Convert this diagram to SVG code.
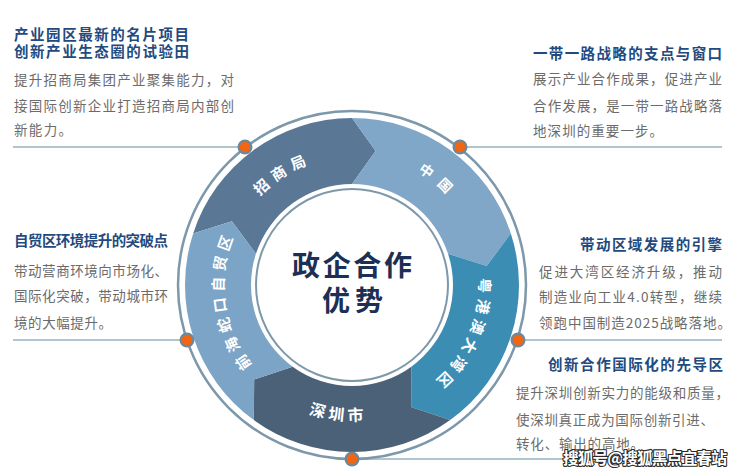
<svg xmlns="http://www.w3.org/2000/svg" width="740" height="472" viewBox="0 0 740 472">
<style>
text{font-family:"Noto Sans CJK SC","Noto Sans",sans-serif;}
.h{font-size:14.5px;font-weight:700;fill:#234a7e;}
.b{font-size:13.5px;fill:#6b6b6b;}
.lbl{font-size:15px;font-weight:700;fill:#ffffff;}
.ctr{font-size:28px;font-weight:700;fill:#1c2f55;}
.ln{stroke:#93b5bd;stroke-width:1.5;fill:none;}
.dotO{fill:#6f8899;}
.dotI{fill:#f26512;}
.wm{font-size:16px;font-weight:700;fill:#ffffff;stroke:#2a2a2a;stroke-width:2.2px;paint-order:stroke;stroke-linejoin:round;}
</style>
<defs>
<path id="pA" d="M224.08,289.47 A128,128 0 0 1 412.09,171.98"/>
<path id="pB" d="M307.20,161.90 A131,131 0 0 1 481.01,307.75"/>
<path id="pC" d="M454.75,210.35 A127,127 0 0 1 365.28,411.30"/>
<path id="pD" d="M227.76,340.32 A136,136 0 0 0 462.03,364.94"/>
<path id="pE" d="M303.02,403.26 A128,128 0 0 1 274.08,183.45"/>
</defs>
<rect width="740" height="472" fill="#ffffff"/>

<g id="connectors">
<line class="ln" x1="13" y1="147" x2="245" y2="147"/>
<line class="ln" x1="460" y1="147" x2="722" y2="147"/>
<line class="ln" x1="13" y1="340" x2="187" y2="340"/>
<line class="ln" x1="518" y1="340" x2="722" y2="340"/>
<line class="ln" x1="352" y1="459" x2="722" y2="459"/>
</g>

<g id="ring">
<circle cx="352" cy="285" r="174" fill="none" stroke="#7d98ab" stroke-width="2.5"/>
</g>

<g id="seg-zhaoshangju">
<path fill="#5a7796" d="M193.17,233.39 A167,167 0 0 1 352,118 L375.62,151.07 L352,184 A101,101 0 0 0 255.94,253.79 L231.92,221.15 Z"/>
<text class="lbl" letter-spacing="6"><textPath href="#pA" startOffset="50%" text-anchor="middle">招商局</textPath></text>
</g>
<g id="seg-zhongguo">
<path fill="#80a7c8" d="M352,118 A167,167 0 0 1 510.83,233.39 L486.68,266.07 L448.06,253.79 A101,101 0 0 0 352,184 L375.62,151.07 Z"/>
<text class="lbl" style="font-size:14px" letter-spacing="9"><textPath href="#pB" startOffset="50%" text-anchor="middle">中国</textPath></text>
</g>
<g id="seg-gba">
<path fill="#3b8db4" d="M510.83,233.39 A167,167 0 0 1 450.16,420.11 L411.62,407.24 L411.37,366.71 A101,101 0 0 0 448.06,253.79 L486.68,266.07 Z"/>
<text class="lbl" letter-spacing="5"><textPath href="#pC" startOffset="50%" text-anchor="middle">粤港澳大湾区</textPath></text>
</g>
<g id="seg-shenzhen">
<path fill="#4a6178" d="M450.16,420.11 A167,167 0 0 1 253.84,420.11 L254.17,379.47 L292.63,366.71 A101,101 0 0 0 411.37,366.71 L411.62,407.24 Z"/>
<text class="lbl" style="font-size:16px" letter-spacing="4"><textPath href="#pD" startOffset="50%" text-anchor="middle">深圳市</textPath></text>
</g>
<g id="seg-qianhai">
<path fill="#7ca4c6" d="M253.84,420.11 A167,167 0 0 1 193.17,233.39 L231.92,221.15 L255.94,253.79 A101,101 0 0 0 292.63,366.71 L254.17,379.47 Z"/>
<text class="lbl" letter-spacing="5"><textPath href="#pE" startOffset="50%" text-anchor="middle">前海蛇口自贸区</textPath></text>
</g>

<g id="center">
<circle cx="352" cy="285" r="96" fill="#ffffff" stroke="#7d98ab" stroke-width="2"/>
<text class="ctr" x="292" y="275.5" textLength="120" lengthAdjust="spacing">政企合作</text>
<text class="ctr" x="322" y="311" textLength="61" lengthAdjust="spacing">优势</text>
</g>

<g id="dots">
<circle class="dotO" cx="245" cy="147" r="7.5"/><circle class="dotI" cx="245" cy="147" r="5.2"/>
<circle class="dotO" cx="460" cy="147" r="7.5"/><circle class="dotI" cx="460" cy="147" r="5.2"/>
<circle class="dotO" cx="187" cy="340" r="7.5"/><circle class="dotI" cx="187" cy="340" r="5.2"/>
<circle class="dotO" cx="518" cy="340" r="7.5"/><circle class="dotI" cx="518" cy="340" r="5.2"/>
<circle class="dotO" cx="352" cy="459" r="7.5"/><circle class="dotI" cx="352" cy="459" r="5.2"/>
</g>

<g id="note-topleft">
<text class="h" x="14" y="39.5" textLength="175" lengthAdjust="spacing">产业园区最新的名片项目</text>
<text class="h" x="14" y="57" textLength="175" lengthAdjust="spacing">创新产业生态圈的试验田</text>
<text class="b" x="14" y="85" textLength="220" lengthAdjust="spacing">提升招商局集团产业聚集能力，对</text>
<text class="b" x="14" y="111" textLength="220" lengthAdjust="spacing">接国际创新企业打造招商局内部创</text>
<text class="b" x="14" y="135" textLength="58" lengthAdjust="spacing">新能力。</text>
</g>

<g id="note-topright">
<text class="h" x="533" y="58.5" textLength="189" lengthAdjust="spacing">一带一路战略的支点与窗口</text>
<text class="b" x="533" y="84" textLength="189" lengthAdjust="spacing">展示产业合作成果，促进产业</text>
<text class="b" x="533" y="111" textLength="189" lengthAdjust="spacing">合作发展，是一带一路战略落</text>
<text class="b" x="533" y="136" textLength="130" lengthAdjust="spacing">地深圳的重要一步。</text>
</g>

<g id="note-left">
<text class="h" x="14" y="246" textLength="154" lengthAdjust="spacing">自贸区环境提升的突破点</text>
<text class="b" x="14" y="276" textLength="154" lengthAdjust="spacing">带动营商环境向市场化、</text>
<text class="b" x="14" y="301" textLength="154" lengthAdjust="spacing">国际化突破，带动城市环</text>
<text class="b" x="14" y="328" textLength="98" lengthAdjust="spacing">境的大幅提升。</text>
</g>

<g id="note-right">
<text class="h" x="580" y="249.5" textLength="142" lengthAdjust="spacing">带动区域发展的引擎</text>
<text class="b" x="539" y="277" textLength="183" lengthAdjust="spacing">促进大湾区经济升级，推动</text>
<text class="b" x="539" y="302" textLength="183" lengthAdjust="spacing">制造业向工业4.0转型，继续</text>
<text class="b" x="539" y="328" textLength="192" lengthAdjust="spacing">领跑中国制造2025战略落地。</text>
</g>

<g id="note-bottomright">
<text class="h" x="548" y="369.5" textLength="175" lengthAdjust="spacing">创新合作国际化的先导区</text>
<text class="b" x="516" y="398" textLength="213" lengthAdjust="spacing">提升深圳创新实力的能级和质量，</text>
<text class="b" x="516" y="425" textLength="198" lengthAdjust="spacing">使深圳真正成为国际创新引进、</text>
<text class="b" x="516" y="449" textLength="128" lengthAdjust="spacing">转化、输出的高地。</text>
</g>

<text class="wm" x="563" y="464" textLength="164" lengthAdjust="spacing">搜狐号@搜狐黑点宜春站</text>
</svg>
